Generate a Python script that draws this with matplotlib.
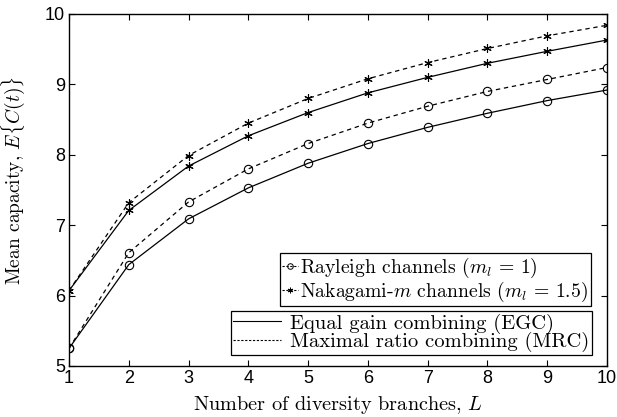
import matplotlib
matplotlib.use("Agg")
import matplotlib.pyplot as plt
from matplotlib.lines import Line2D

plt.rcParams['mathtext.fontset'] = 'cm'
plt.rcParams['axes.unicode_minus'] = False

# diversity branches
L = [1, 2, 3, 4, 5, 6, 7, 8, 9, 10]

# mean capacity
rayleigh_egc = [5.25, 6.44, 7.09, 7.53, 7.88, 8.16, 8.39, 8.59, 8.77, 8.92]
rayleigh_mrc = [5.25, 6.61, 7.33, 7.80, 8.16, 8.45, 8.69, 8.90, 9.07, 9.24]
nakagami_egc = [6.07, 7.21, 7.84, 8.27, 8.60, 8.88, 9.10, 9.30, 9.47, 9.63]
nakagami_mrc = [6.07, 7.32, 7.99, 8.45, 8.80, 9.08, 9.31, 9.51, 9.69, 9.84]

serif = 'cmr10'
star = (6, 2, 0)

fig = plt.figure(figsize=(6.17, 4.17), dpi=100)
ax = fig.add_axes([69 / 617, 1 - 366 / 417, (607 - 69) / 617, (366 - 14) / 417])

lw = 0.9
ax.plot(L, rayleigh_egc, '-', color='k', lw=lw, marker='o', ms=6, mfc='none', mew=0.8)
ax.plot(L, rayleigh_mrc, '--', color='k', lw=lw, marker='o', ms=6, mfc='none', mew=0.8,
        dashes=(3.5, 3))
ax.plot(L, nakagami_egc, '-', color='k', lw=lw, marker=star, ms=6, mew=0.8)
ax.plot(L, nakagami_mrc, '--', color='k', lw=lw, marker=star, ms=6, mew=0.8,
        dashes=(3.5, 3))

ax.set_xlim(1, 10)
ax.set_ylim(5, 10)
ax.set_xticks(L)
ax.set_yticks([5, 6, 7, 8, 9, 10])
ax.tick_params(direction='in', top=True, right=True, length=4, width=0.8,
               labelsize=13, pad=3)
for lab in ax.get_xticklabels() + ax.get_yticklabels():
    lab.set_fontfamily('Liberation Sans')
for s in ax.spines.values():
    s.set_linewidth(1.0)

ax.set_xlabel('Number of diversity branches, $L$', fontfamily=serif, fontsize=14.6, labelpad=5)
ax.set_ylabel('Mean capacity, $E\\{C(t)\\}$', fontfamily=serif, fontsize=14)
ax.yaxis.set_label_coords((27 - 69) / 538, (366 - 181) / 352)

# channel legend
h1 = [Line2D([], [], color='k', ls='--', lw=0.8, marker='o', ms=4, mfc='none', mew=0.7, dashes=(2, 1.5)),
      Line2D([], [], color='k', ls='--', lw=0.8, marker=star, ms=4, mew=0.7, dashes=(2, 1.5))]
leg1 = ax.legend(h1, ['Rayleigh channels ($m_l\\,=\\,1$)', 'Nakagami-$m$ channels ($m_l\\,=\\,1.5$)'],
                 loc='upper left', bbox_to_anchor=((280 - 69) / 538, 1 - (253 - 14) / 352),
                 prop={'family': serif, 'size': 14.2}, handlelength=0.8, handletextpad=0.1,
                 borderpad=0.12, labelspacing=0.0, borderaxespad=0, fancybox=False,
                 edgecolor='k', framealpha=1)
leg1.get_frame().set_linewidth(0.9)
ax.add_artist(leg1)

# combining legend
h2 = [Line2D([], [], color='k', ls='-', lw=0.8),
      Line2D([], [], color='k', ls='--', lw=0.8, dashes=(2, 1.5))]
leg2 = ax.legend(h2, ['Equal gain combining (EGC)', 'Maximal ratio combining (MRC)'],
                 loc='upper left', bbox_to_anchor=((231 - 69) / 538, 1 - (311 - 14) / 352),
                 prop={'family': serif, 'size': 14.8}, handlelength=2.3, handletextpad=0.45,
                 borderpad=0.12, labelspacing=-0.08, borderaxespad=0, fancybox=False,
                 edgecolor='k', framealpha=1)
leg2.get_frame().set_linewidth(0.9)

fig.savefig('out.png', dpi=100)
